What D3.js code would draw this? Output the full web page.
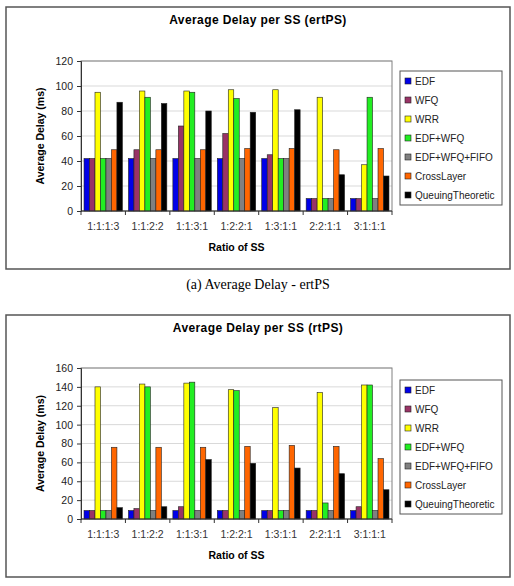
<!DOCTYPE html>
<html>
<head>
<meta charset="utf-8">
<script src="https://cdn.jsdelivr.net/npm/d3@7"></script>
<style>
  body { margin: 0; background: #fff; }
  text { font-family: "Liberation Sans", Arial, sans-serif; }
</style>
</head>
<body>
<svg id="chart" width="514" height="586"></svg>
<script>
let ratios = ["1:1:1:3", "1:1:2:2", "1:1:3:1", "1:2:2:1", "1:3:1:1", "2:2:1:1", "3:1:1:1"],
  schemes = ["EDF", "WFQ", "WRR", "EDF+WFQ", "EDF+WFQ+FIFO", "CrossLayer", "QueuingTheoretic"],
  colors = ["#0000e8", "#993366", "#ffff00", "#22ee22", "#808080", "#ff6600", "#000000"]

// ertPS delay, one array per scheme
let ertEDF = [42, 42, 42, 42, 42, 10, 10],
  ertWFQ = [42, 49, 68, 62, 45, 10, 10],
  ertWRR = [95, 96, 96, 97, 97, 91, 37],
  ertEdfWfq = [42, 91, 95, 90, 42, 10, 91],
  ertFifo = [42, 42, 42, 42, 42, 10, 10],
  ertCross = [49, 49, 49, 50, 50, 49, 50],
  ertQueue = [87, 86, 80, 79, 81, 29, 28]

// rtPS delay
let rtEDF = [9, 9, 9, 9, 9, 9, 9],
  rtWFQ = [9, 11, 13, 9, 9, 9, 13],
  rtWRR = [140, 143, 144, 137, 118, 134, 142],
  rtEdfWfq = [9, 140, 145, 136, 9, 17, 142],
  rtFifo = [9, 9, 9, 9, 9, 9, 9],
  rtCross = [76, 76, 76, 77, 78, 77, 64],
  rtQueue = [12, 13, 63, 59, 54, 48, 31]

let ertTicks = [0, 20, 40, 60, 80, 100, 120],
  rtTicks = [0, 20, 40, 60, 80, 100, 120, 140, 160]

let svg = d3.select("#chart")

function drawChart(opts) {
  let g = svg.append("g")
  let plot = { left: 81, right: 392, top: opts.top + opts.plotTop, bottom: opts.top + opts.plotBottom }

  g.append("rect")
    .attr("x", 6).attr("y", opts.top)
    .attr("width", 504).attr("height", opts.height)
    .attr("fill", "#fff").attr("stroke", "#555").attr("stroke-width", 1.5)

  g.append("text")
    .attr("x", 258).attr("y", opts.top + opts.titleY)
    .attr("text-anchor", "middle")
    .attr("font-size", 12).attr("font-weight", "bold")
    .attr("letter-spacing", 0.4)
    .text(opts.title)

  let x = d3.scaleBand().domain(ratios).range([plot.left, plot.right])
  let xi = d3.scaleBand().domain(schemes).range([0, x.bandwidth()]).paddingOuter(0.55)
  let y = d3.scaleLinear().domain([0, d3.max(opts.ticks)]).range([plot.bottom, plot.top])

  // gridlines
  g.append("g").selectAll("line")
    .data(opts.ticks.slice(1)).enter()
    .append("line")
    .attr("x1", plot.left).attr("x2", plot.right)
    .attr("y1", d => y(d)).attr("y2", d => y(d))
    .attr("stroke", "#d9d9d9")

  g.append("rect")
    .attr("x", plot.left).attr("y", plot.top)
    .attr("width", plot.right - plot.left).attr("height", plot.bottom - plot.top)
    .attr("fill", "none").attr("stroke", "#808080")

  // bars
  let rows = []
  opts.series.forEach((vals, si) => vals.forEach((v, ci) => rows.push({ s: schemes[si], c: ratios[ci], v: v, i: si })))
  g.append("g").selectAll("rect")
    .data(rows).enter()
    .append("rect")
    .attr("x", d => x(d.c) + xi(d.s))
    .attr("width", xi.bandwidth())
    .attr("y", d => y(d.v))
    .attr("height", d => y(0) - y(d.v))
    .attr("fill", d => colors[d.i])
    .attr("stroke", "#222").attr("stroke-width", 0.6)

  // y axis
  let yAxis = g.append("g")
    .attr("transform", `translate(${plot.left},0)`)
    .call(d3.axisLeft(y).tickValues(opts.ticks).tickSize(4).tickPadding(4))
  yAxis.select(".domain").attr("stroke", "#333")
  yAxis.selectAll("line").attr("stroke", "#333")
  yAxis.selectAll("text").attr("font-size", 10.5).attr("fill", "#222")
    .style("font-family", "Liberation Sans, Arial, sans-serif")

  // x axis: ticks between categories
  let xAxis = g.append("g")
    .attr("transform", `translate(0,${plot.bottom})`)
  xAxis.append("line")
    .attr("x1", plot.left).attr("x2", plot.right)
    .attr("stroke", "#333")
  xAxis.selectAll("line.tk")
    .data(ratios.concat(["end"])).enter()
    .append("line")
    .attr("class", "tk")
    .attr("x1", (d, i) => plot.left + i * x.step())
    .attr("x2", (d, i) => plot.left + i * x.step())
    .attr("y1", 0).attr("y2", 4)
    .attr("stroke", "#333")
  xAxis.selectAll("text")
    .data(ratios).enter()
    .append("text")
    .attr("x", d => x(d) + x.bandwidth() / 2)
    .attr("y", 19)
    .attr("text-anchor", "middle")
    .attr("font-size", 10.5).attr("fill", "#333")
    .text(d => d)

  g.append("text")
    .attr("x", (plot.left + plot.right) / 2)
    .attr("y", plot.bottom + 40)
    .attr("text-anchor", "middle")
    .attr("font-size", 10.5).attr("font-weight", "bold")
    .text("Ratio of SS")

  g.append("text")
    .attr("transform", `translate(44,${(plot.top + plot.bottom) / 2}) rotate(-90)`)
    .attr("text-anchor", "middle")
    .attr("font-size", 10.5).attr("font-weight", "bold")
    .text("Average Delay (ms)")

  // legend
  let lg = g.append("g")
    .attr("transform", `translate(400,${opts.top + opts.legendTop})`)
  lg.append("rect")
    .attr("width", 102).attr("height", 134)
    .attr("fill", "#fff").attr("stroke", "#555")
  let item = lg.selectAll("g.item")
    .data(schemes).enter()
    .append("g")
    .attr("transform", (d, i) => `translate(5,${10 + i * 19})`)
  item.append("rect")
    .attr("width", 6).attr("height", 6).attr("y", -3)
    .attr("fill", (d, i) => colors[i])
    .attr("stroke", "#222").attr("stroke-width", 0.6)
  item.append("text")
    .attr("x", 10).attr("y", 3.5)
    .attr("font-size", 10).attr("fill", "#222")
    .text(d => d)

  if (opts.caption) {
    svg.append("text")
      .attr("x", 258).attr("y", opts.top + opts.height + 20)
      .attr("text-anchor", "middle")
      .attr("font-size", 14)
      .style("font-family", "Liberation Serif, Times New Roman, serif")
      .text(opts.caption)
  }
}

drawChart({
  top: 7, height: 262, titleY: 17, plotTop: 54, plotBottom: 204, legendTop: 64,
  title: "Average Delay per SS (ertPS)",
  ticks: ertTicks,
  series: [ertEDF, ertWFQ, ertWRR, ertEdfWfq, ertFifo, ertCross, ertQueue],
  caption: "(a) Average Delay - ertPS"
})

drawChart({
  top: 315, height: 262, titleY: 17, plotTop: 53, plotBottom: 204, legendTop: 65,
  title: "Average Delay per SS (rtPS)",
  ticks: rtTicks,
  series: [rtEDF, rtWFQ, rtWRR, rtEdfWfq, rtFifo, rtCross, rtQueue]
})
</script>
</body>
</html>
